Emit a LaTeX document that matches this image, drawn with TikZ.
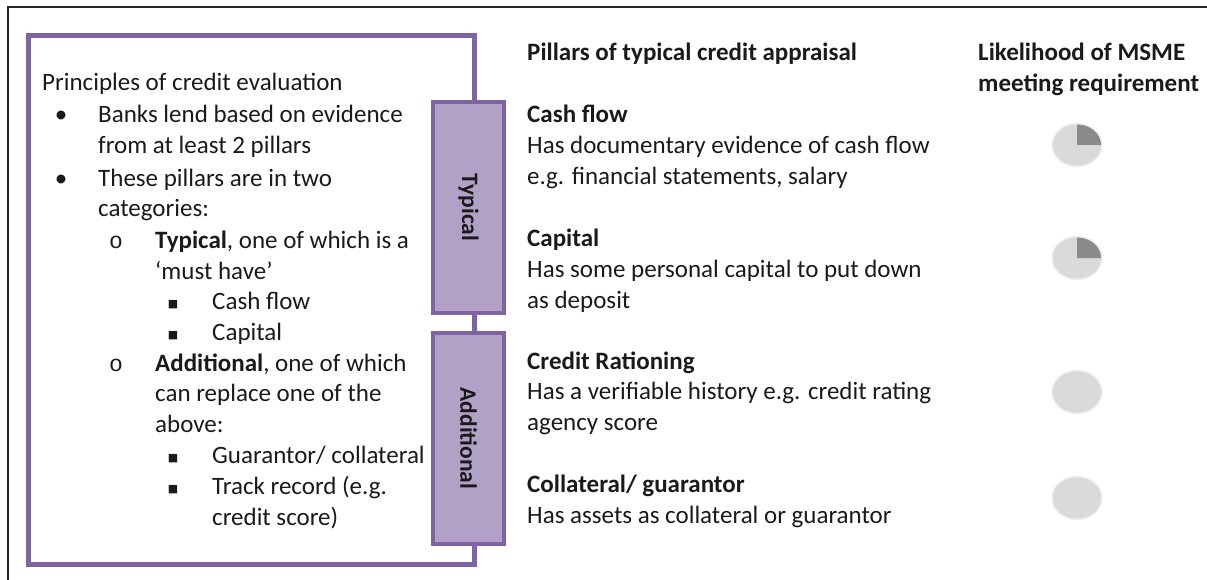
\documentclass[tikz,border=0pt]{standalone}
\usepackage{fontspec}
\setmainfont{Carlito}
\newfontfamily\symfont{DejaVu Sans}
\newfontfamily\ofont{Liberation Mono}
\usetikzlibrary{shapes.geometric}
\definecolor{purpbd}{HTML}{8064A2}
\definecolor{purpfill}{HTML}{B2A1C7}
\definecolor{pielight}{HTML}{DADADA}
\definecolor{piedark}{HTML}{8A8A8A}
\definecolor{txt}{HTML}{1A1A1A}
\tikzset{
  txtline/.style={anchor=base west, inner sep=0pt, font=\fontsize{25}{30}\selectfont, text=txt},
  boldline/.style={txtline, font=\fontsize{25}{30}\selectfont\bfseries},
  bul/.style={anchor=base, inner sep=0pt, font=\fontsize{25}{30}\selectfont, text=txt},
  tabbox/.style={draw=purpbd, fill=purpfill, line width=4pt, rotate=-90, minimum width=211pt, minimum height=71pt, font=\fontsize{23.5}{30}\selectfont\bfseries, text=txt, inner sep=0pt},
  frameline/.style={draw=purpbd, line width=5pt},
  pie/.style={ellipse, fill=pielight, minimum width=48pt, minimum height=41pt, inner sep=0pt},
  piehalo/.style={ellipse, fill=pielight!55, minimum width=51pt, minimum height=44pt, inner sep=0pt}
}
\begin{document}
\begin{tikzpicture}[x=1pt,y=-1pt]
\useasboundingbox (0,0) rectangle (1207,580);
% outer thin frame
\draw[line width=1.2pt, black!85] (8,580) -- (8,7) -- (1207,7);
% tabs
\node[tabbox] (typ) at (468.5,207.5) {Typical};
\node[tabbox] (add) at (468.5,438.5) {Additional};
\coordinate (fx) at (474,0);
\coordinate (tl) at (28,35.5);
\coordinate (bl) at (28,564.5);
% purple frame
\draw[frameline, line join=miter] (fx |- typ.west) -- (fx |- tl) -- (tl) -- (bl) -- (fx |- bl) -- (fx |- add.east);
\draw[frameline] (fx |- typ.east) -- (fx |- add.west);
% left box text
\node[txtline] (l0) at (42,91) {Principles of credit evaluation};
\node[bul] (b1) at (61,123) {•};
\node[txtline] (l1) at (98,123) {Banks lend based on evidence};
\node[txtline] (l2) at (98,154) {from at least 2 pillars};
\node[bul] (b2) at (61,187) {•};
\node[txtline] (l3) at (98,187) {These pillars are in two};
\node[txtline] (l4) at (98,217) {categories:};
\node[bul, font=\fontsize{23}{26}\ofont] (o1) at (116,248) {o};
\node[txtline] (l5) at (155,248) {\textbf{Typical}, one of which is a};
\node[txtline] (l6) at (155,279) {‘must have’};
\node[bul, font=\fontsize{11}{14}\symfont] (s1) at (173,307) {■};
\node[txtline] (l7) at (212,309) {Cash flow};
\node[bul, font=\fontsize{11}{14}\symfont] (s2) at (173,338) {■};
\node[txtline] (l8) at (212,340) {Capital};
\node[bul, font=\fontsize{23}{26}\ofont] (o2) at (116,371) {o};
\node[txtline] (l9) at (155,371) {\textbf{Additional}, one of which};
\node[txtline] (l10) at (155,401) {can replace one of the};
\node[txtline] (l11) at (155,432) {above:};
\node[bul, font=\fontsize{11}{14}\symfont] (s3) at (173,461) {■};
\node[txtline] (l12) at (212,463) {Guarantor/ collateral};
\node[bul, font=\fontsize{11}{14}\symfont] (s4) at (173,492) {■};
\node[txtline] (l13) at (212,494) {Track record (e.g.};
\node[txtline] (l14) at (212,525) {credit score)};
% right column
\node[boldline] (h1) at (527,61) {Pillars of typical credit appraisal};
\node[boldline] (c1) at (527,123) {Cash flow};
\node[txtline] (c1a) at (527,154) {Has documentary evidence of cash flow};
\node[txtline] (c1b) at (527,185) {e.g. financial statements, salary};
\node[boldline] (c2) at (527,246) {Capital};
\node[txtline] (c2a) at (527,277) {Has some personal capital to put down};
\node[txtline] (c2b) at (527,308) {as deposit};
\node[boldline] (c3) at (527,369) {Credit Rationing};
\node[txtline] (c3a) at (527,399) {Has a verifiable history e.g. credit rating};
\node[txtline] (c3b) at (527,430) {agency score};
\node[boldline] (c4) at (527,492) {Collateral/ guarantor};
\node[txtline] (c4a) at (527,523) {Has assets as collateral or guarantor};
\node[boldline] (h2) at (978,61) {Likelihood of MSME};
\node[boldline] (h3) at (978,92) {meeting requirement};
% pies
\node[piehalo] (p1h) at (1077,145) {};
\node[pie] (p1) at (1077,145) {};
\fill[piedark] (p1.center) -- ++(0,-20.5) arc[start angle=-90, end angle=0, x radius=24, y radius=20.5] -- cycle;
\node[piehalo] (p2h) at (1077,258) {};
\node[pie] (p2) at (1077,258) {};
\fill[piedark] (p2.center) -- ++(0,-20.5) arc[start angle=-90, end angle=0, x radius=24, y radius=20.5] -- cycle;
\node[piehalo] (p3h) at (1077,392) {};
\node[pie] (p3) at (1077,392) {};
\node[piehalo] (p4h) at (1077,498) {};
\node[pie] (p4) at (1077,498) {};
\end{tikzpicture}
\end{document}
